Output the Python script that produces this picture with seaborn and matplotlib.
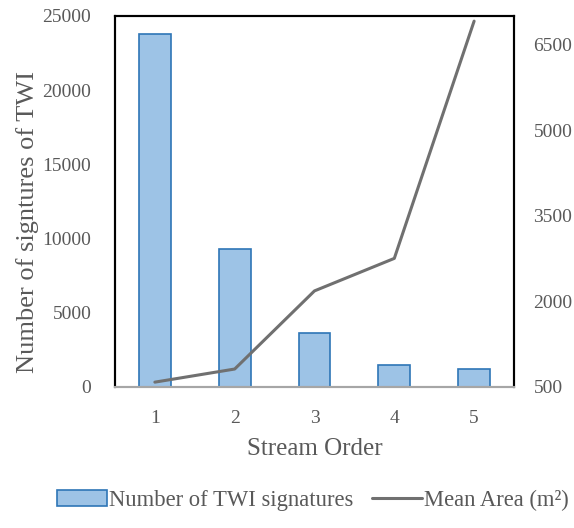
import matplotlib
matplotlib.use("Agg")
import matplotlib.pyplot as plt
import seaborn as sns
import pandas as pd
from matplotlib.patches import Patch
from matplotlib.lines import Line2D

# values
stream_order = ["1", "2", "3", "4", "5"]
twi_signatures = [23800, 9300, 3650, 1450, 1200]
mean_area = [580, 810, 2180, 2750, 6910]

df = pd.DataFrame({"order": stream_order, "count": twi_signatures, "area": mean_area})

sns.set_theme(style="white")
plt.rcParams["font.family"] = ["Liberation Serif", "DejaVu Serif"]

bar_fill = "#9DC3E6"
bar_edge = "#2E75B6"
line_col = "#707070"
text_col = "#595959"

fig = plt.figure(figsize=(5.74, 5.28), dpi=100)
ax = fig.add_axes([0.2003, 0.2676, 0.6952, 0.7021])

sns.barplot(data=df, x="order", y="count", ax=ax, color=bar_fill,
            edgecolor=bar_edge, linewidth=1.2, width=0.4, saturation=1)
ax.set_ylim(0, 25000)
ax.set_yticks([0, 5000, 10000, 15000, 20000, 25000])
ax.set_xlim(-0.5, 4.5)
ax.set_xlabel("Stream Order", fontsize=18, color=text_col, labelpad=8)
ax.set_ylabel("Number of signtures of TWI", fontsize=19, color=text_col)
ax.yaxis.set_label_coords(-0.19, 0.444)
ax.tick_params(axis="y", labelsize=14, labelcolor=text_col, length=0, pad=17)
ax.tick_params(axis="x", labelsize=14, labelcolor=text_col, length=0, pad=17)

ax2 = ax.twinx()
sns.lineplot(data=df, x="order", y="area", ax=ax2, color=line_col,
             linewidth=2.2, sort=False)
ax2.set_ylim(500, 7000)
ax2.set_yticks([500, 2000, 3500, 5000, 6500])
ax2.set_ylabel("")
ax2.tick_params(axis="y", labelsize=14, labelcolor=text_col, length=0, pad=14)

for a in (ax, ax2):
    for side in ("left", "right", "top"):
        a.spines[side].set_color("black")
        a.spines[side].set_linewidth(1.5)
    a.spines["bottom"].set_color("#A6A6A6")
    a.spines["bottom"].set_linewidth(1.5)

handles = [Patch(facecolor=bar_fill, edgecolor=bar_edge, linewidth=1.2),
           Line2D([0], [0], color=line_col, linewidth=2.2)]
fig.legend(handles, ["Number of TWI signatures", "Mean Area (m²)"],
           loc="center", bbox_to_anchor=(0.545, 0.053), ncol=2, frameon=False,
           fontsize=16.3, labelcolor=text_col, handlelength=2.2, handletextpad=0.1,
           columnspacing=0.8)

fig.savefig("out.png", dpi=100)
